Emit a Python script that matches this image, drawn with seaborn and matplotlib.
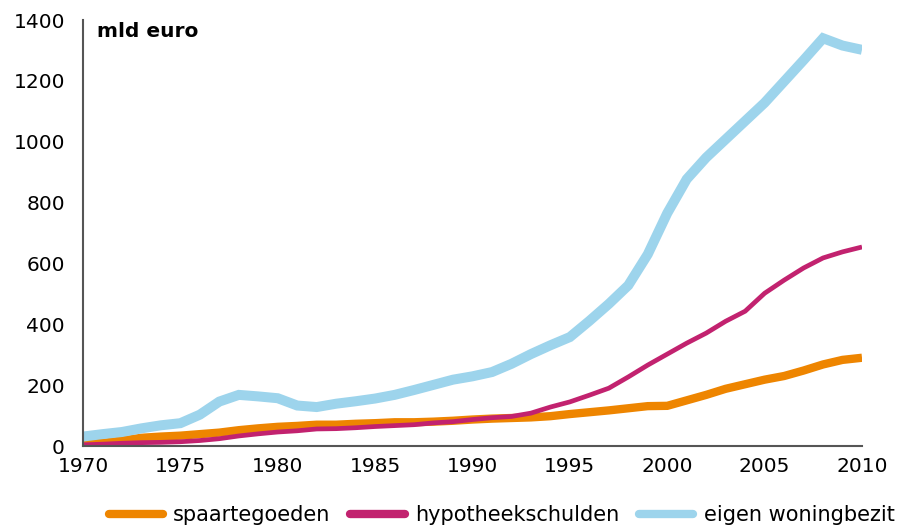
import matplotlib
matplotlib.use("Agg")
import matplotlib.pyplot as plt
import seaborn as sns
import pandas as pd
from matplotlib.ticker import MultipleLocator

years = list(range(1970, 2011))

spaartegoeden = [7, 10, 18, 27, 31, 34, 39, 44, 52, 58, 63, 66, 70, 70, 73, 75, 78, 78, 80, 83,
                 87, 90, 92, 94, 98, 105, 111, 117, 124, 131, 132, 150, 168, 188, 203, 218,
                 230, 248, 268, 283, 290]
hypotheekschulden = [4, 6, 9, 11, 12, 14, 18, 24, 33, 40, 46, 50, 56, 57, 60, 64, 67, 70, 76, 80,
                     87, 93, 97, 108, 128, 145, 167, 190, 227, 266, 302, 338, 371, 410, 443, 502,
                     545, 585, 618, 638, 654]
eigen_woningbezit = [31, 39, 46, 58, 68, 75, 103, 146, 168, 163, 157, 133, 128, 139, 147, 156,
                     168, 184, 201, 218, 229, 243, 270, 302, 331, 358, 411, 467, 528, 630, 765,
                     877, 948, 1008, 1068, 1128, 1198, 1268, 1340, 1316, 1302]

series_names = ["spaartegoeden", "hypotheekschulden", "eigen woningbezit"]
colors = {"spaartegoeden": "#EE8500", "hypotheekschulden": "#C2226F", "eigen woningbezit": "#9DD4EC"}
widths = {"spaartegoeden": 6.0, "hypotheekschulden": 3.4, "eigen woningbezit": 7.2}

df = pd.concat([
    pd.DataFrame({"jaar": years, "waarde": spaartegoeden, "reeks": "spaartegoeden"}),
    pd.DataFrame({"jaar": years, "waarde": hypotheekschulden, "reeks": "hypotheekschulden"}),
    pd.DataFrame({"jaar": years, "waarde": eigen_woningbezit, "reeks": "eigen woningbezit"}),
])

sns.set_style("white")
plt.rcParams["font.family"] = ["DejaVu Sans"]
plt.rcParams["text.color"] = "black"
plt.rcParams["xtick.color"] = "black"
plt.rcParams["ytick.color"] = "black"

fig = plt.figure(figsize=(9.02, 5.26), dpi=100)
ax = fig.add_axes([83/902, 1-446/526, (862-83)/902, (446-20)/526])

draw_order = ["spaartegoeden", "hypotheekschulden", "eigen woningbezit"]
for name in draw_order:
    sub = df[df["reeks"] == name]
    sns.lineplot(data=sub, x="jaar", y="waarde", ax=ax, color=colors[name],
                 linewidth=widths[name], label=name, legend=False,
                 solid_joinstyle="miter", solid_capstyle="butt")

ax.set_xlim(1970, 2010)
ax.set_ylim(0, 1400)
ax.xaxis.set_major_locator(MultipleLocator(5))
ax.xaxis.set_minor_locator(MultipleLocator(1))
ax.yaxis.set_major_locator(MultipleLocator(200))
ax.set_xlabel("")
ax.set_ylabel("")

for side in ["top", "right"]:
    ax.spines[side].set_visible(False)
for side in ["left", "bottom"]:
    ax.spines[side].set_color("#555555")
    ax.spines[side].set_linewidth(1.5)

ax.tick_params(axis="both", which="both", direction="out", color="#555555", width=1.2,
               labelsize=14.5, labelcolor="black")
ax.tick_params(axis="x", which="major", length=7, pad=1)
ax.tick_params(axis="x", which="minor", length=7)
ax.tick_params(axis="y", which="major", length=5, pad=8)

ax.text(0.018, 0.995, "mld euro", transform=ax.transAxes, fontsize=14.5, fontweight="bold",
        va="top", ha="left", color="black")

handles = [plt.Line2D([0], [0], color=colors[n], linewidth=6.0, solid_capstyle="round") for n in series_names]
fig.legend(handles, series_names, loc="center", bbox_to_anchor=(0.556, 1-515/526), ncol=3,
           frameon=False, fontsize=15, handlelength=2.6, handletextpad=0.5, columnspacing=0.95)

fig.savefig("out.png", dpi=100)
